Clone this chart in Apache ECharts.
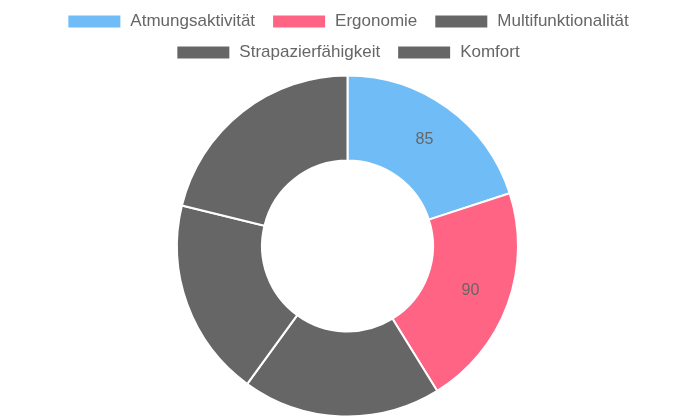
<!DOCTYPE html>
<html>
<head>
<meta charset="utf-8">
<script src="https://cdn.jsdelivr.net/npm/echarts@6/dist/echarts.min.js"></script>
<style>
  html, body { margin: 0; padding: 0; background: #fff; }
  #chart { width: 695px; height: 417px; }
</style>
</head>
<body>
<div id="chart"></div>
<script>
const categories = ['Atmungsaktivität', 'Ergonomie', 'Multifunktionalität', 'Strapazierfähigkeit', 'Komfort'];
const values = [85, 90, 80, 80, 90];
const palette = ['#6FBCF7', '#FF6485', '#666666', '#666666', '#666666'];

const chart = echarts.init(document.getElementById('chart'), null, { renderer: 'canvas' });

const legendCommon = {
  left: 'center',
  orient: 'horizontal',
  icon: 'rect',
  itemWidth: 54,
  itemHeight: 14,
  itemGap: 16,
  padding: 0,
  textStyle: {
    fontFamily: 'Liberation Sans, Arial, sans-serif',
    fontSize: 17,
    color: '#666',
    lineHeight: 17,
    padding: [0, 0, 0, 4]
  }
};

const option = {
  animation: false,
  color: palette,
  legend: [
    Object.assign({}, legendCommon, { top: 13, data: categories.slice(0, 3) }),
    Object.assign({}, legendCommon, { top: 44, data: categories.slice(3) })
  ],
  series: [{
    type: 'pie',
    center: [347.5, 246],
    radius: [85.5, 170.5],
    startAngle: 90,
    clockwise: true,
    avoidLabelOverlap: false,
    itemStyle: { borderColor: '#fff', borderWidth: 2 },
    label: {
      show: true,
      position: 'inside',
      formatter: '{c}',
      color: '#666',
      fontFamily: 'Liberation Sans, Arial, sans-serif',
      fontSize: 16
    },
    labelLine: { show: false },
    emphasis: { disabled: true },
    data: categories.map((name, i) => ({ name: name, value: values[i] }))
  }]
};

chart.setOption(option);
</script>
</body>
</html>
